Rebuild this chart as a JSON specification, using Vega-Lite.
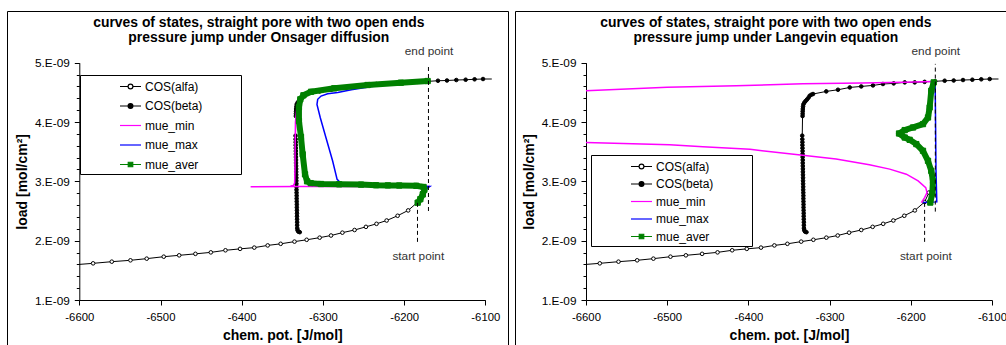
{
  "$schema": "https://vega.github.io/schema/vega-lite/v6.json",
  "padding": {"left": 6, "top": 10, "right": 0, "bottom": 0},
  "spacing": 5,
  "config": {
    "view": {"stroke": "black", "strokeWidth": 1},
    "font": "Liberation Sans",
    "axis": {"labelFont": "Liberation Sans", "titleFont": "Liberation Sans", "domainColor": "black", "tickColor": "black", "labelColor": "black", "titleColor": "black", "grid": false, "domainWidth": 1, "tickWidth": 1},
    "legend": {"strokeColor": "black", "fillColor": "white", "cornerRadius": 0, "symbolSize": 225, "symbolStrokeWidth": 1.2, "labelOffset": 6, "labelFont": "Liberation Sans", "labelFontSize": 12, "labelColor": "black", "padding": 3, "symbolOffset": 39, "titleOrient": "right", "titleOpacity": 0, "titleFontSize": 1, "titlePadding": 35}
  },
  "datasets": {
    "states": [
      {"series": "COS(alfa)", "i": 0, "x": -6600, "y": 1.600e-9},
      {"series": "COS(alfa)", "i": 1, "x": -6583, "y": 1.618e-9},
      {"series": "COS(alfa)", "i": 2, "x": -6560, "y": 1.646e-9},
      {"series": "COS(alfa)", "i": 3, "x": -6537, "y": 1.669e-9},
      {"series": "COS(alfa)", "i": 4, "x": -6517, "y": 1.697e-9},
      {"series": "COS(alfa)", "i": 5, "x": -6496, "y": 1.730e-9},
      {"series": "COS(alfa)", "i": 6, "x": -6477, "y": 1.753e-9},
      {"series": "COS(alfa)", "i": 7, "x": -6457, "y": 1.778e-9},
      {"series": "COS(alfa)", "i": 8, "x": -6438, "y": 1.803e-9},
      {"series": "COS(alfa)", "i": 9, "x": -6420, "y": 1.838e-9},
      {"series": "COS(alfa)", "i": 10, "x": -6402, "y": 1.862e-9},
      {"series": "COS(alfa)", "i": 11, "x": -6384.5, "y": 1.883e-9},
      {"series": "COS(alfa)", "i": 12, "x": -6368, "y": 1.920e-9},
      {"series": "COS(alfa)", "i": 13, "x": -6352, "y": 1.947e-9},
      {"series": "COS(alfa)", "i": 14, "x": -6335, "y": 1.984e-9},
      {"series": "COS(alfa)", "i": 15, "x": -6320, "y": 2.015e-9},
      {"series": "COS(alfa)", "i": 16, "x": -6304, "y": 2.051e-9},
      {"series": "COS(alfa)", "i": 17, "x": -6290, "y": 2.087e-9},
      {"series": "COS(alfa)", "i": 18, "x": -6276, "y": 2.135e-9},
      {"series": "COS(alfa)", "i": 19, "x": -6261, "y": 2.180e-9},
      {"series": "COS(alfa)", "i": 20, "x": -6247, "y": 2.233e-9},
      {"series": "COS(alfa)", "i": 21, "x": -6234, "y": 2.284e-9},
      {"series": "COS(alfa)", "i": 22, "x": -6221.5, "y": 2.340e-9},
      {"series": "COS(alfa)", "i": 23, "x": -6208, "y": 2.420e-9},
      {"series": "COS(alfa)", "i": 24, "x": -6195, "y": 2.510e-9},
      {"series": "COS(alfa)", "i": 25, "x": -6183, "y": 2.652e-9},
      {"series": "COS(alfa)", "i": 26, "x": -6177.6, "y": 2.811e-9},
      {"series": "COS(beta)", "i": 0, "x": -6328.5, "y": 2.143e-9},
      {"series": "COS(beta)", "i": 1, "x": -6330.2, "y": 2.152e-9},
      {"series": "COS(beta)", "i": 2, "x": -6331.2, "y": 2.175e-9},
      {"series": "COS(beta)", "i": 3, "x": -6331.6, "y": 2.21e-9},
      {"series": "COS(beta)", "i": 4, "x": -6331.7, "y": 2.26e-9},
      {"series": "COS(beta)", "i": 5, "x": -6331.7, "y": 2.31e-9},
      {"series": "COS(beta)", "i": 6, "x": -6331.8, "y": 2.36e-9},
      {"series": "COS(beta)", "i": 7, "x": -6331.9, "y": 2.41e-9},
      {"series": "COS(beta)", "i": 8, "x": -6331.9, "y": 2.46e-9},
      {"series": "COS(beta)", "i": 9, "x": -6332.0, "y": 2.51e-9},
      {"series": "COS(beta)", "i": 10, "x": -6332.1, "y": 2.56e-9},
      {"series": "COS(beta)", "i": 11, "x": -6332.1, "y": 2.61e-9},
      {"series": "COS(beta)", "i": 12, "x": -6332.2, "y": 2.66e-9},
      {"series": "COS(beta)", "i": 13, "x": -6332.3, "y": 2.71e-9},
      {"series": "COS(beta)", "i": 14, "x": -6332.3, "y": 2.76e-9},
      {"series": "COS(beta)", "i": 15, "x": -6332.4, "y": 2.81e-9},
      {"series": "COS(beta)", "i": 16, "x": -6332.5, "y": 2.86e-9},
      {"series": "COS(beta)", "i": 17, "x": -6332.5, "y": 2.91e-9},
      {"series": "COS(beta)", "i": 18, "x": -6332.6, "y": 2.96e-9},
      {"series": "COS(beta)", "i": 19, "x": -6332.7, "y": 3.01e-9},
      {"series": "COS(beta)", "i": 20, "x": -6332.7, "y": 3.06e-9},
      {"series": "COS(beta)", "i": 21, "x": -6332.8, "y": 3.11e-9},
      {"series": "COS(beta)", "i": 22, "x": -6332.9, "y": 3.16e-9},
      {"series": "COS(beta)", "i": 23, "x": -6332.9, "y": 3.21e-9},
      {"series": "COS(beta)", "i": 24, "x": -6333.0, "y": 3.26e-9},
      {"series": "COS(beta)", "i": 25, "x": -6333.1, "y": 3.31e-9},
      {"series": "COS(beta)", "i": 26, "x": -6333.1, "y": 3.36e-9},
      {"series": "COS(beta)", "i": 27, "x": -6333.2, "y": 3.41e-9},
      {"series": "COS(beta)", "i": 28, "x": -6333.3, "y": 3.46e-9},
      {"series": "COS(beta)", "i": 29, "x": -6333.3, "y": 3.51e-9},
      {"series": "COS(beta)", "i": 30, "x": -6333.4, "y": 3.56e-9},
      {"series": "COS(beta)", "i": 31, "x": -6333.5, "y": 3.61e-9},
      {"series": "COS(beta)", "i": 32, "x": -6333.5, "y": 3.66e-9},
      {"series": "COS(beta)", "i": 33, "x": -6333.6, "y": 3.71e-9},
      {"series": "COS(beta)", "i": 34, "x": -6333.7, "y": 3.77e-9},
      {"series": "COS(beta)", "i": 35, "x": -6333.3, "y": 4.10e-9},
      {"series": "COS(beta)", "i": 36, "x": -6333.2, "y": 4.14e-9},
      {"series": "COS(beta)", "i": 37, "x": -6333.1, "y": 4.18e-9},
      {"series": "COS(beta)", "i": 38, "x": -6333.0, "y": 4.22e-9},
      {"series": "COS(beta)", "i": 39, "x": -6332.7, "y": 4.26e-9},
      {"series": "COS(beta)", "i": 40, "x": -6332.2, "y": 4.30e-9},
      {"series": "COS(beta)", "i": 41, "x": -6331.0, "y": 4.33e-9},
      {"series": "COS(beta)", "i": 42, "x": -6329.5, "y": 4.355e-9},
      {"series": "COS(beta)", "i": 43, "x": -6327.8, "y": 4.38e-9},
      {"series": "COS(beta)", "i": 44, "x": -6326.0, "y": 4.41e-9},
      {"series": "COS(beta)", "i": 45, "x": -6324.5, "y": 4.443e-9},
      {"series": "COS(beta)", "i": 46, "x": -6322.5, "y": 4.46e-9},
      {"series": "COS(beta)", "i": 47, "x": -6320.4, "y": 4.472e-9},
      {"series": "COS(beta)", "i": 48, "x": -6304.1, "y": 4.516e-9},
      {"series": "COS(beta)", "i": 49, "x": -6289.7, "y": 4.544e-9},
      {"series": "COS(beta)", "i": 50, "x": -6275.2, "y": 4.583e-9},
      {"series": "COS(beta)", "i": 51, "x": -6261.0, "y": 4.600e-9},
      {"series": "COS(beta)", "i": 52, "x": -6246.6, "y": 4.617e-9},
      {"series": "COS(beta)", "i": 53, "x": -6234.3, "y": 4.641e-9},
      {"series": "COS(beta)", "i": 54, "x": -6221.1, "y": 4.651e-9},
      {"series": "COS(beta)", "i": 55, "x": -6207.5, "y": 4.668e-9},
      {"series": "COS(beta)", "i": 56, "x": -6195.2, "y": 4.668e-9},
      {"series": "COS(beta)", "i": 57, "x": -6183.0, "y": 4.677e-9},
      {"series": "COS(beta)", "i": 58, "x": -6170.0, "y": 4.686e-9},
      {"series": "COS(beta)", "i": 59, "x": -6158.3, "y": 4.696e-9},
      {"series": "COS(beta)", "i": 60, "x": -6147.2, "y": 4.700e-9},
      {"series": "COS(beta)", "i": 61, "x": -6135.7, "y": 4.708e-9},
      {"series": "COS(beta)", "i": 62, "x": -6124.2, "y": 4.713e-9},
      {"series": "COS(beta)", "i": 63, "x": -6113.2, "y": 4.720e-9},
      {"series": "COS(beta)", "i": 64, "x": -6102.8, "y": 4.725e-9},
      {"series": "COS(beta)", "i": 65, "x": -6092.0, "y": 4.725e-9}
    ],
    "onsager": [
      {"series": "mue_min", "seg": 1, "i": 0, "x": -6183.3, "y": 2.640e-9},
      {"series": "mue_min", "seg": 1, "i": 1, "x": -6179, "y": 2.72e-9},
      {"series": "mue_min", "seg": 1, "i": 2, "x": -6175, "y": 2.82e-9},
      {"series": "mue_min", "seg": 1, "i": 3, "x": -6172, "y": 2.90e-9},
      {"series": "mue_min", "seg": 1, "i": 4, "x": -6168, "y": 2.912e-9},
      {"series": "mue_min", "seg": 1, "i": 5, "x": -6250, "y": 2.912e-9},
      {"series": "mue_min", "seg": 1, "i": 6, "x": -6330, "y": 2.912e-9},
      {"series": "mue_min", "seg": 1, "i": 7, "x": -6389, "y": 2.910e-9},
      {"series": "mue_min", "seg": 1, "i": 8, "x": -6340, "y": 2.912e-9},
      {"series": "mue_min", "seg": 1, "i": 9, "x": -6336.5, "y": 2.93e-9},
      {"series": "mue_min", "seg": 1, "i": 10, "x": -6334.8, "y": 2.97e-9},
      {"series": "mue_min", "seg": 1, "i": 11, "x": -6334.4, "y": 3.2e-9},
      {"series": "mue_min", "seg": 1, "i": 12, "x": -6334.2, "y": 3.6e-9},
      {"series": "mue_min", "seg": 1, "i": 13, "x": -6333.8, "y": 4.0e-9},
      {"series": "mue_min", "seg": 1, "i": 14, "x": -6332, "y": 4.25e-9},
      {"series": "mue_min", "seg": 1, "i": 15, "x": -6329, "y": 4.38e-9},
      {"series": "mue_min", "seg": 1, "i": 16, "x": -6322, "y": 4.46e-9},
      {"series": "mue_min", "seg": 1, "i": 17, "x": -6314.6, "y": 4.51e-9},
      {"series": "mue_min", "seg": 1, "i": 18, "x": -6286, "y": 4.568e-9},
      {"series": "mue_min", "seg": 1, "i": 19, "x": -6245, "y": 4.624e-9},
      {"series": "mue_min", "seg": 1, "i": 20, "x": -6204, "y": 4.663e-9},
      {"series": "mue_min", "seg": 1, "i": 21, "x": -6171, "y": 4.691e-9},
      {"series": "mue_max", "seg": 1, "i": 0, "x": -6183.3, "y": 2.640e-9},
      {"series": "mue_max", "seg": 1, "i": 1, "x": -6179, "y": 2.72e-9},
      {"series": "mue_max", "seg": 1, "i": 2, "x": -6175, "y": 2.82e-9},
      {"series": "mue_max", "seg": 1, "i": 3, "x": -6171, "y": 2.89e-9},
      {"series": "mue_max", "seg": 1, "i": 4, "x": -6168.5, "y": 2.912e-9},
      {"series": "mue_max", "seg": 1, "i": 5, "x": -6200, "y": 2.92e-9},
      {"series": "mue_max", "seg": 1, "i": 6, "x": -6250, "y": 2.93e-9},
      {"series": "mue_max", "seg": 1, "i": 7, "x": -6270, "y": 2.945e-9},
      {"series": "mue_max", "seg": 1, "i": 8, "x": -6278, "y": 2.97e-9},
      {"series": "mue_max", "seg": 1, "i": 9, "x": -6282.5, "y": 3.034e-9},
      {"series": "mue_max", "seg": 1, "i": 10, "x": -6288, "y": 3.342e-9},
      {"series": "mue_max", "seg": 1, "i": 11, "x": -6296.2, "y": 3.735e-9},
      {"series": "mue_max", "seg": 1, "i": 12, "x": -6303.2, "y": 4.073e-9},
      {"series": "mue_max", "seg": 1, "i": 13, "x": -6307.3, "y": 4.298e-9},
      {"series": "mue_max", "seg": 1, "i": 14, "x": -6306.4, "y": 4.383e-9},
      {"series": "mue_max", "seg": 1, "i": 15, "x": -6302.3, "y": 4.438e-9},
      {"series": "mue_max", "seg": 1, "i": 16, "x": -6294.1, "y": 4.477e-9},
      {"series": "mue_max", "seg": 1, "i": 17, "x": -6281.8, "y": 4.497e-9},
      {"series": "mue_max", "seg": 1, "i": 18, "x": -6265, "y": 4.545e-9},
      {"series": "mue_max", "seg": 1, "i": 19, "x": -6240, "y": 4.60e-9},
      {"series": "mue_max", "seg": 1, "i": 20, "x": -6204, "y": 4.655e-9},
      {"series": "mue_max", "seg": 1, "i": 21, "x": -6171, "y": 4.69e-9},
      {"series": "mue_aver", "seg": 1, "i": 0, "x": -6183.3, "y": 2.640e-9},
      {"series": "mue_aver", "seg": 1, "i": 1, "x": -6180, "y": 2.70e-9},
      {"series": "mue_aver", "seg": 1, "i": 2, "x": -6177, "y": 2.78e-9},
      {"series": "mue_aver", "seg": 1, "i": 3, "x": -6175, "y": 2.86e-9},
      {"series": "mue_aver", "seg": 1, "i": 4, "x": -6176, "y": 2.905e-9},
      {"series": "mue_aver", "seg": 1, "i": 5, "x": -6185, "y": 2.925e-9},
      {"series": "mue_aver", "seg": 1, "i": 6, "x": -6206, "y": 2.93e-9},
      {"series": "mue_aver", "seg": 1, "i": 7, "x": -6220, "y": 2.932e-9},
      {"series": "mue_aver", "seg": 1, "i": 8, "x": -6234.6, "y": 2.935e-9},
      {"series": "mue_aver", "seg": 1, "i": 9, "x": -6253, "y": 2.945e-9},
      {"series": "mue_aver", "seg": 1, "i": 10, "x": -6280, "y": 2.95e-9},
      {"series": "mue_aver", "seg": 1, "i": 11, "x": -6302.3, "y": 2.955e-9},
      {"series": "mue_aver", "seg": 1, "i": 12, "x": -6315, "y": 2.97e-9},
      {"series": "mue_aver", "seg": 1, "i": 13, "x": -6319.5, "y": 3.00e-9},
      {"series": "mue_aver", "seg": 1, "i": 14, "x": -6322, "y": 3.118e-9},
      {"series": "mue_aver", "seg": 1, "i": 15, "x": -6324.9, "y": 3.455e-9},
      {"series": "mue_aver", "seg": 1, "i": 16, "x": -6327, "y": 3.75e-9},
      {"series": "mue_aver", "seg": 1, "i": 17, "x": -6329.5, "y": 4.017e-9},
      {"series": "mue_aver", "seg": 1, "i": 18, "x": -6329.5, "y": 4.25e-9},
      {"series": "mue_aver", "seg": 1, "i": 19, "x": -6327.8, "y": 4.383e-9},
      {"series": "mue_aver", "seg": 1, "i": 20, "x": -6324, "y": 4.45e-9},
      {"series": "mue_aver", "seg": 1, "i": 21, "x": -6314.6, "y": 4.51e-9},
      {"series": "mue_aver", "seg": 1, "i": 22, "x": -6286, "y": 4.568e-9},
      {"series": "mue_aver", "seg": 1, "i": 23, "x": -6245, "y": 4.624e-9},
      {"series": "mue_aver", "seg": 1, "i": 24, "x": -6204, "y": 4.663e-9},
      {"series": "mue_aver", "seg": 1, "i": 25, "x": -6171, "y": 4.691e-9}
    ],
    "langevin": [
      {"series": "mue_min", "seg": 1, "i": 0, "x": -6187, "y": 2.642e-9},
      {"series": "mue_min", "seg": 1, "i": 1, "x": -6183, "y": 2.727e-9},
      {"series": "mue_min", "seg": 1, "i": 2, "x": -6180, "y": 2.811e-9},
      {"series": "mue_min", "seg": 1, "i": 3, "x": -6181.6, "y": 2.895e-9},
      {"series": "mue_min", "seg": 1, "i": 4, "x": -6191, "y": 3.008e-9},
      {"series": "mue_min", "seg": 1, "i": 5, "x": -6205.5, "y": 3.121e-9},
      {"series": "mue_min", "seg": 1, "i": 6, "x": -6226, "y": 3.206e-9},
      {"series": "mue_min", "seg": 1, "i": 7, "x": -6251, "y": 3.28e-9},
      {"series": "mue_min", "seg": 1, "i": 8, "x": -6292, "y": 3.375e-9},
      {"series": "mue_min", "seg": 1, "i": 9, "x": -6333, "y": 3.44e-9},
      {"series": "mue_min", "seg": 1, "i": 10, "x": -6398, "y": 3.54e-9},
      {"series": "mue_min", "seg": 1, "i": 11, "x": -6456, "y": 3.585e-9},
      {"series": "mue_min", "seg": 1, "i": 12, "x": -6497, "y": 3.615e-9},
      {"series": "mue_min", "seg": 1, "i": 13, "x": -6600, "y": 3.655e-9},
      {"series": "mue_min", "seg": 2, "i": 14, "x": -6600, "y": 4.527e-9},
      {"series": "mue_min", "seg": 2, "i": 15, "x": -6500, "y": 4.585e-9},
      {"series": "mue_min", "seg": 2, "i": 16, "x": -6415, "y": 4.612e-9},
      {"series": "mue_min", "seg": 2, "i": 17, "x": -6333, "y": 4.645e-9},
      {"series": "mue_min", "seg": 2, "i": 18, "x": -6260, "y": 4.658e-9},
      {"series": "mue_min", "seg": 2, "i": 19, "x": -6210, "y": 4.67e-9},
      {"series": "mue_min", "seg": 2, "i": 20, "x": -6172, "y": 4.685e-9},
      {"series": "mue_max", "seg": 1, "i": 0, "x": -6185, "y": 2.642e-9},
      {"series": "mue_max", "seg": 1, "i": 1, "x": -6168, "y": 2.654e-9},
      {"series": "mue_max", "seg": 1, "i": 2, "x": -6169, "y": 3.2e-9},
      {"series": "mue_max", "seg": 1, "i": 3, "x": -6169.5, "y": 4.0e-9},
      {"series": "mue_max", "seg": 1, "i": 4, "x": -6170, "y": 4.668e-9},
      {"series": "mue_aver", "seg": 1, "i": 0, "x": -6176, "y": 2.642e-9},
      {"series": "mue_aver", "seg": 1, "i": 1, "x": -6173.5, "y": 2.80e-9},
      {"series": "mue_aver", "seg": 1, "i": 2, "x": -6172.7, "y": 3.008e-9},
      {"series": "mue_aver", "seg": 1, "i": 3, "x": -6174.8, "y": 3.177e-9},
      {"series": "mue_aver", "seg": 1, "i": 4, "x": -6178.8, "y": 3.346e-9},
      {"series": "mue_aver", "seg": 1, "i": 5, "x": -6185, "y": 3.515e-9},
      {"series": "mue_aver", "seg": 1, "i": 6, "x": -6193.2, "y": 3.628e-9},
      {"series": "mue_aver", "seg": 1, "i": 7, "x": -6201.4, "y": 3.700e-9},
      {"series": "mue_aver", "seg": 1, "i": 8, "x": -6207.5, "y": 3.739e-9},
      {"series": "mue_aver", "seg": 1, "i": 9, "x": -6214.5, "y": 3.807e-9},
      {"series": "mue_aver", "seg": 1, "i": 10, "x": -6207.5, "y": 3.864e-9},
      {"series": "mue_aver", "seg": 1, "i": 11, "x": -6197.3, "y": 3.908e-9},
      {"series": "mue_aver", "seg": 1, "i": 12, "x": -6185, "y": 3.965e-9},
      {"series": "mue_aver", "seg": 1, "i": 13, "x": -6178.8, "y": 4.077e-9},
      {"series": "mue_aver", "seg": 1, "i": 14, "x": -6176.8, "y": 4.246e-9},
      {"series": "mue_aver", "seg": 1, "i": 15, "x": -6174.8, "y": 4.527e-9},
      {"series": "mue_aver", "seg": 1, "i": 16, "x": -6171.8, "y": 4.668e-9}
    ],
    "guides": [
      {"panel": "L", "kind": "rule", "x": -6170, "y": 2.50e-9, "y2": 4.95e-9},
      {"panel": "L", "kind": "rule", "x": -6183.5, "y": 1.98e-9, "y2": 2.64e-9},
      {"panel": "R", "kind": "rule", "x": -6169.8, "y": 2.49e-9, "y2": 4.98e-9},
      {"panel": "R", "kind": "rule", "x": -6183, "y": 1.98e-9, "y2": 2.64e-9},
      {"panel": "L", "kind": "text", "label": "end point", "x": -6169.3, "y": 5.197e-9},
      {"panel": "L", "kind": "text", "label": "start point", "x": -6182.5, "y": 1.735e-9},
      {"panel": "R", "kind": "text", "label": "end point", "x": -6169.2, "y": 5.2e-9},
      {"panel": "R", "kind": "text", "label": "start point", "x": -6181.5, "y": 1.75e-9}
    ]
  },
  "resolve": {
    "scale": {"x": "independent", "y": "independent", "stroke": "independent", "fill": "independent", "shape": "independent"},
    "legend": {"stroke": "independent", "fill": "independent", "shape": "independent"}
  },
  "hconcat": [
    {
      "width": 501,
      "height": 335,
      "title": {"text": ["curves of states, straight pore with two open ends", "pressure jump under Onsager diffusion"], "font": "Liberation Sans", "fontSize": 13.9, "fontWeight": "bold", "color": "black", "anchor": "middle", "frame": "group", "offset": -34, "dx": 1.3, "lineHeight": 15},
      "encoding": {
        "x": {"field": "x", "type": "quantitative",
          "scale": {"domain": [-6600, -6100], "range": [72.3, 478.3], "nice": false, "zero": false},
          "axis": {"values": [-6600, -6500, -6400, -6300, -6200, -6100], "labelExpr": "'-' + abs(datum.value)", "labelFontSize": 11.3, "tickSize": 5, "labelPadding": 6, "labelFlush": false, "labelOverlap": false, "title": "chem. pot. [J/mol]", "titleFontSize": 14, "titleFontWeight": "bold", "titlePadding": 6, "offset": -46}},
        "y": {"field": "y", "type": "quantitative",
          "scale": {"domain": [1e-9, 5e-9], "range": [289, 51.7], "nice": false, "zero": false},
          "axis": {"values": [1e-9, 1.2e-9, 1.4e-9, 1.6e-9, 1.8e-9, 2e-9, 2.2e-9, 2.4e-9, 2.6e-9, 2.8e-9, 3e-9, 3.2e-9, 3.4e-9, 3.6e-9, 3.8e-9, 4e-9, 4.2e-9, 4.4e-9, 4.6e-9, 4.8e-9, 5e-9],
            "labelExpr": "abs(datum.value*1e9 - round(datum.value*1e9)) < 0.01 ? round(datum.value*1e9) + '.E-09' : ''",
            "tickSize": {"condition": {"test": "abs(datum.value*1e9 - round(datum.value*1e9)) > 0.01", "value": 3}, "value": 5},
            "labelFontSize": 11.8, "labelPadding": 5, "labelFlush": false, "labelOverlap": false, "title": "load [mol/cm²]", "titleFontSize": 14, "titleFontWeight": "bold", "titlePadding": 5, "offset": -72.3}}
      },
      "layer": [
        {"data": {"name": "states"}, "mark": {"type": "line", "color": "black", "strokeWidth": 1, "clip": false},
          "encoding": {"detail": {"field": "series"}, "order": {"field": "i", "type": "quantitative"}}},
        {"data": {"name": "states"}, "transform": [{"filter": "datum.series === 'COS(alfa)' && datum.x > -6600"}],
          "mark": {"type": "point", "shape": "circle", "size": 13, "strokeWidth": 1, "opacity": 1, "stroke": "black", "fill": "white", "filled": false}},
        {"data": {"name": "states"}, "transform": [{"filter": "datum.series === 'COS(beta)' && datum.x < -6100"}],
          "mark": {"type": "point", "shape": "circle", "size": 13, "strokeWidth": 1, "opacity": 1, "stroke": "black", "fill": "black", "filled": false}},
        {"data": {"name": "states"}, "transform": [{"filter": "datum.i < 0"}],
          "mark": {"type": "point", "opacity": 1},
          "encoding": {
            "stroke": {"field": "series", "type": "nominal", "scale": {"domain": ["COS(alfa)", "COS(beta)", "mue_min", "mue_max", "mue_aver"], "range": ["black", "black", "#FF00FF", "#0000FF", "#008000"]},
              "legend": {"orient": "none", "legendX": 73, "legendY": 64, "title": "x", "rowPadding": 4.5}},
            "fill": {"field": "series", "type": "nominal", "scale": {"domain": ["COS(alfa)", "COS(beta)", "mue_min", "mue_max", "mue_aver"], "range": ["white", "black", "transparent", "transparent", "#008000"]},
              "legend": {"orient": "none", "legendX": 73, "legendY": 64, "title": "x", "rowPadding": 4.5}},
            "shape": {"field": "series", "type": "nominal", "scale": {"domain": ["COS(alfa)", "COS(beta)", "mue_min", "mue_max", "mue_aver"], "range": ["M-1.4,0H-0.32M0.32,0H1.4M-0.32,0A0.32,0.32,0,1,1,0.32,0A0.32,0.32,0,1,1,-0.32,0Z", "M-1.4,0H1.4M-0.32,0A0.32,0.32,0,1,1,0.32,0A0.32,0.32,0,1,1,-0.32,0Z", "M-1.4,0H1.4", "M-1.4,0H1.4", "M-1.4,0H1.4M-0.3,-0.3H0.3V0.3H-0.3Z"]},
              "legend": {"orient": "none", "legendX": 73, "legendY": 64, "title": "x", "rowPadding": 4.5}}
          }},
        {"data": {"name": "onsager"}, "transform": [{"filter": "datum.series === 'mue_min'"}],
          "mark": {"type": "line", "color": "#FF00FF", "strokeWidth": 1.5, "clip": false},
          "encoding": {"detail": {"field": "seg"}, "order": {"field": "i", "type": "quantitative"}}},
        {"data": {"name": "onsager"}, "transform": [{"filter": "datum.series === 'mue_max'"}],
          "mark": {"type": "line", "color": "#0000FF", "strokeWidth": 1.5, "clip": false},
          "encoding": {"detail": {"field": "seg"}, "order": {"field": "i", "type": "quantitative"}}},
        {"data": {"name": "onsager"}, "transform": [{"filter": "datum.series === 'mue_aver'"}],
          "mark": {"type": "line", "color": "#008000", "strokeWidth": 6, "strokeJoin": "round", "clip": false},
          "encoding": {"detail": {"field": "seg"}, "order": {"field": "i", "type": "quantitative"}}},
        {"data": {"name": "onsager"}, "transform": [{"filter": "datum.series === 'mue_aver'"}],
          "mark": {"type": "point", "shape": "square", "size": 28, "strokeWidth": 1, "opacity": 1, "stroke": "#008000", "fill": "#008000", "filled": false}},
        {"data": {"name": "guides"}, "transform": [{"filter": "datum.panel === 'L' && datum.kind === 'rule'"}],
          "mark": {"type": "rule", "color": "black", "strokeWidth": 1, "strokeDash": [4, 3], "clip": false},
          "encoding": {"y2": {"field": "y2"}}},
        {"data": {"name": "guides"}, "transform": [{"filter": "datum.panel === 'L' && datum.kind === 'text'"}],
          "mark": {"type": "text", "font": "Liberation Sans", "fontSize": 11.8, "color": "#333333", "baseline": "middle", "align": "center"},
          "encoding": {"text": {"field": "label"}}}
      ]
    },
    {
      "width": 492,
      "height": 335,
      "title": {"text": ["curves of states, straight pore with two open ends", "pressure jump under Langevin equation"], "font": "Liberation Sans", "fontSize": 13.9, "fontWeight": "bold", "color": "black", "anchor": "middle", "frame": "group", "offset": -34, "dx": 4.8, "lineHeight": 15},
      "encoding": {
        "x": {"field": "x", "type": "quantitative",
          "scale": {"domain": [-6600, -6100], "range": [71, 477], "nice": false, "zero": false},
          "axis": {"values": [-6600, -6500, -6400, -6300, -6200, -6100], "labelExpr": "'-' + abs(datum.value)", "labelFontSize": 11.3, "tickSize": 5, "labelPadding": 6, "labelFlush": false, "labelOverlap": false, "title": "chem. pot. [J/mol]", "titleFontSize": 14, "titleFontWeight": "bold", "titlePadding": 6, "offset": -46}},
        "y": {"field": "y", "type": "quantitative",
          "scale": {"domain": [1e-9, 5e-9], "range": [289, 51.7], "nice": false, "zero": false},
          "axis": {"values": [1e-9, 1.2e-9, 1.4e-9, 1.6e-9, 1.8e-9, 2e-9, 2.2e-9, 2.4e-9, 2.6e-9, 2.8e-9, 3e-9, 3.2e-9, 3.4e-9, 3.6e-9, 3.8e-9, 4e-9, 4.2e-9, 4.4e-9, 4.6e-9, 4.8e-9, 5e-9],
            "labelExpr": "abs(datum.value*1e9 - round(datum.value*1e9)) < 0.01 ? round(datum.value*1e9) + '.E-09' : ''",
            "tickSize": {"condition": {"test": "abs(datum.value*1e9 - round(datum.value*1e9)) > 0.01", "value": 3}, "value": 5},
            "labelFontSize": 11.8, "labelPadding": 5, "labelFlush": false, "labelOverlap": false, "title": "load [mol/cm²]", "titleFontSize": 14, "titleFontWeight": "bold", "titlePadding": 5, "offset": -71}}
      },
      "layer": [
        {"data": {"name": "states"}, "mark": {"type": "line", "color": "black", "strokeWidth": 1, "clip": false},
          "encoding": {"detail": {"field": "series"}, "order": {"field": "i", "type": "quantitative"}}},
        {"data": {"name": "states"}, "transform": [{"filter": "datum.series === 'COS(alfa)' && datum.x > -6600"}],
          "mark": {"type": "point", "shape": "circle", "size": 13, "strokeWidth": 1, "opacity": 1, "stroke": "black", "fill": "white", "filled": false}},
        {"data": {"name": "states"}, "transform": [{"filter": "datum.series === 'COS(beta)' && datum.x < -6100"}],
          "mark": {"type": "point", "shape": "circle", "size": 13, "strokeWidth": 1, "opacity": 1, "stroke": "black", "fill": "black", "filled": false}},
        {"data": {"name": "states"}, "transform": [{"filter": "datum.i < 0"}],
          "mark": {"type": "point", "opacity": 1},
          "encoding": {
            "stroke": {"field": "series", "type": "nominal", "scale": {"domain": ["COS(alfa)", "COS(beta)", "mue_min", "mue_max", "mue_aver"], "range": ["black", "black", "#FF00FF", "#0000FF", "#008000"]},
              "legend": {"orient": "none", "legendX": 76, "legendY": 144, "title": "x", "rowPadding": 2.5}},
            "fill": {"field": "series", "type": "nominal", "scale": {"domain": ["COS(alfa)", "COS(beta)", "mue_min", "mue_max", "mue_aver"], "range": ["white", "black", "transparent", "transparent", "#008000"]},
              "legend": {"orient": "none", "legendX": 76, "legendY": 144, "title": "x", "rowPadding": 2.5}},
            "shape": {"field": "series", "type": "nominal", "scale": {"domain": ["COS(alfa)", "COS(beta)", "mue_min", "mue_max", "mue_aver"], "range": ["M-1.4,0H-0.32M0.32,0H1.4M-0.32,0A0.32,0.32,0,1,1,0.32,0A0.32,0.32,0,1,1,-0.32,0Z", "M-1.4,0H1.4M-0.32,0A0.32,0.32,0,1,1,0.32,0A0.32,0.32,0,1,1,-0.32,0Z", "M-1.4,0H1.4", "M-1.4,0H1.4", "M-1.4,0H1.4M-0.3,-0.3H0.3V0.3H-0.3Z"]},
              "legend": {"orient": "none", "legendX": 76, "legendY": 144, "title": "x", "rowPadding": 2.5}}
          }},
        {"data": {"name": "langevin"}, "transform": [{"filter": "datum.series === 'mue_min'"}],
          "mark": {"type": "line", "color": "#FF00FF", "strokeWidth": 1.5, "clip": false},
          "encoding": {"detail": {"field": "seg"}, "order": {"field": "i", "type": "quantitative"}}},
        {"data": {"name": "langevin"}, "transform": [{"filter": "datum.series === 'mue_max'"}],
          "mark": {"type": "line", "color": "#0000FF", "strokeWidth": 1.5, "clip": false},
          "encoding": {"detail": {"field": "seg"}, "order": {"field": "i", "type": "quantitative"}}},
        {"data": {"name": "langevin"}, "transform": [{"filter": "datum.series === 'mue_aver'"}],
          "mark": {"type": "line", "color": "#008000", "strokeWidth": 6, "strokeJoin": "round", "clip": false},
          "encoding": {"detail": {"field": "seg"}, "order": {"field": "i", "type": "quantitative"}}},
        {"data": {"name": "langevin"}, "transform": [{"filter": "datum.series === 'mue_aver'"}],
          "mark": {"type": "point", "shape": "square", "size": 28, "strokeWidth": 1, "opacity": 1, "stroke": "#008000", "fill": "#008000", "filled": false}},
        {"data": {"name": "guides"}, "transform": [{"filter": "datum.panel === 'R' && datum.kind === 'rule'"}],
          "mark": {"type": "rule", "color": "black", "strokeWidth": 1, "strokeDash": [4, 3], "clip": false},
          "encoding": {"y2": {"field": "y2"}}},
        {"data": {"name": "guides"}, "transform": [{"filter": "datum.panel === 'R' && datum.kind === 'text'"}],
          "mark": {"type": "text", "font": "Liberation Sans", "fontSize": 11.8, "color": "#333333", "baseline": "middle", "align": "center"},
          "encoding": {"text": {"field": "label"}}}
      ]
    }
  ]
}
